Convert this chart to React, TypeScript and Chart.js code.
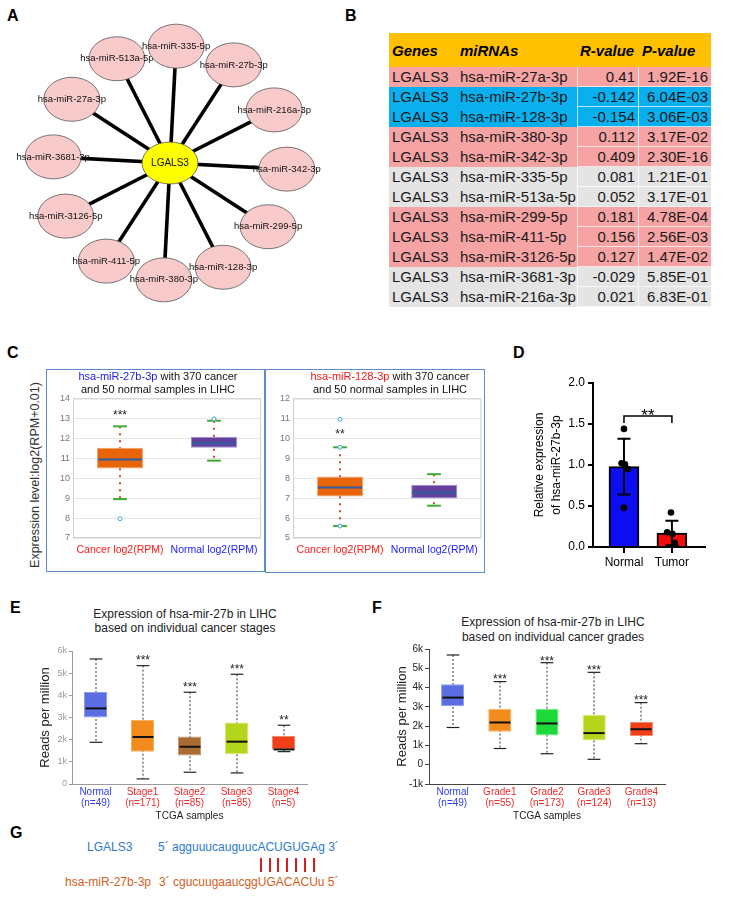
import React, { useEffect, useRef } from 'react';
import { Chart, registerables } from 'chart.js';

Chart.register(...registerables);

const FONT = "'Liberation Sans', Arial, Helvetica, sans-serif";
Chart.defaults.font.family = FONT;

// ---------------- Panel A : network ----------------
const hubGene = 'LGALS3';
const networkMirnas = [
  'hsa-miR-342-3p', 'hsa-miR-299-5p', 'hsa-miR-128-3p', 'hsa-miR-380-3p',
  'hsa-miR-411-5p', 'hsa-miR-3126-5p', 'hsa-miR-3681-3p', 'hsa-miR-27a-3p',
  'hsa-miR-513a-5p', 'hsa-miR-335-5p', 'hsa-miR-27b-3p', 'hsa-miR-216a-3p',
];

// ---------------- Panel B : correlation table ----------------
const tableHeaders = ['Genes', 'miRNAs', 'R-value', 'P-value'];
const tableGenes = ['LGALS3', 'LGALS3', 'LGALS3', 'LGALS3', 'LGALS3', 'LGALS3', 'LGALS3', 'LGALS3', 'LGALS3', 'LGALS3', 'LGALS3', 'LGALS3'];
const tableMirnas = [
  'hsa-miR-27a-3p', 'hsa-miR-27b-3p', 'hsa-miR-128-3p', 'hsa-miR-380-3p', 'hsa-miR-342-3p', 'hsa-miR-335-5p',
  'hsa-miR-513a-5p', 'hsa-miR-299-5p', 'hsa-miR-411-5p', 'hsa-miR-3126-5p', 'hsa-miR-3681-3p', 'hsa-miR-216a-3p',
];
const tableR = ['0.41', '-0.142', '-0.154', '0.112', '0.409', '0.081', '0.052', '0.181', '0.156', '0.127', '-0.029', '0.021'];
const tableP = ['1.92E-16', '6.04E-03', '3.06E-03', '3.17E-02', '2.30E-16', '1.21E-01', '3.17E-01', '4.78E-04', '2.56E-03', '1.47E-02', '5.85E-01', '6.83E-01'];

// ---------------- Panel C : ENCORI box plots ----------------
const cCategories = ['Cancer log2(RPM)', 'Normal log2(RPM)'];
const c27bQ1 = [10.48, 11.52];
const c27bQ3 = [11.52, 12.08];
const c27bMed = [10.93, 11.75];
const c27bLo = [8.95, 10.88];
const c27bHi = [12.6, 12.88];
const c27bOut = [[7.97], [12.97]];
const c27bStars = ['***', ''];

const c128Q1 = [7.08, 6.98];
const c128Q3 = [8.08, 7.67];
const c128Med = [7.53, 7.27];
const c128Lo = [5.6, 6.62];
const c128Hi = [9.55, 8.2];
const c128Out = [[10.95, 9.55, 5.6], []];
const c128Stars = ['**', ''];

// ---------------- Panel D : qPCR bar chart ----------------
const dGroups = ['Normal', 'Tumor'];
const dMeans = [0.98, 0.17];
const dSD = [0.34, 0.15];
const dNormalPoints = [1.44, 1.02, 1.01, 0.95, 0.48];
const dNormalJitter = [0, -0.05, 0.02, 0.08, 0];
const dTumorPoints = [0.42, 0.18, 0.16, 0.05, 0.02];
const dTumorJitter = [-0.02, -0.1, 0.01, 0.06, 0.06];
const dSignificance = '**';

// ---------------- Panel E : stages ----------------
const eCategories = [['Normal', '(n=49)'], ['Stage1', '(n=171)'], ['Stage2', '(n=85)'], ['Stage3', '(n=85)'], ['Stage4', '(n=5)']];
const eQ1 = [3000, 1460, 1290, 1340, 1560];
const eQ3 = [4150, 2890, 2140, 2770, 2180];
const eMed = [3410, 2120, 1680, 1910, 1560];
const eLo = [1880, 230, 530, 500, 1460];
const eHi = [5640, 5340, 4140, 4950, 2650];
const eStars = ['', '***', '***', '***', '**'];

// ---------------- Panel F : grades ----------------
const fCategories = [['Normal', '(n=49)'], ['Grade1', '(n=55)'], ['Grade2', '(n=173)'], ['Grade3', '(n=124)'], ['Grade4', '(n=13)']];
const fQ1 = [3030, 1710, 1520, 1260, 1470];
const fQ3 = [4170, 2900, 2900, 2590, 2210];
const fMed = [3480, 2190, 2140, 1640, 1840];
const fLo = [1930, 840, 570, 280, 1090];
const fHi = [5690, 4310, 5290, 4790, 3220];
const fStars = ['', '***', '***', '***', '***'];

// ---------------- Panel G : binding site ----------------
const gTargetName = 'LGALS3';
const gTargetPrefix = '5\u00b4 agguuucauguuc';
const gTargetSeed = 'ACUGUGA';
const gTargetSuffix = 'g 3\u00b4';
const gMirName = 'hsa-miR-27b-3p';
const gMirPrefix = '3\u00b4 cgucuugaaucgg';
const gMirSeed = 'UGACACU';
const gMirSuffix = 'u 5\u00b4';

// =====================================================

const networkPlugin = {
  id: 'network',
  afterDatasetsDraw(chart: any) {
    const ctx = chart.ctx as CanvasRenderingContext2D;
    const hub = chart.getDatasetMeta(0).data[0];
    const nodes = chart.getDatasetMeta(1).data;
    ctx.save();
    ctx.strokeStyle = '#000';
    ctx.lineWidth = 3.6;
    nodes.forEach((n: any) => {
      ctx.beginPath();
      ctx.moveTo(hub.x, hub.y);
      ctx.lineTo(n.x, n.y);
      ctx.stroke();
    });
    nodes.forEach((n: any, i: number) => {
      ctx.beginPath();
      ctx.ellipse(n.x, n.y, 28, 22, 0, 0, Math.PI * 2);
      ctx.fillStyle = '#F9CACA';
      ctx.fill();
      ctx.lineWidth = 0.8;
      ctx.strokeStyle = '#555';
      ctx.stroke();
      ctx.fillStyle = '#111';
      ctx.font = `9.5px ${FONT}`;
      ctx.textAlign = 'center';
      ctx.textBaseline = 'middle';
      ctx.fillText(networkMirnas[i], n.x, n.y);
    });
    ctx.beginPath();
    ctx.ellipse(hub.x, hub.y, 28, 21, 0, 0, Math.PI * 2);
    ctx.fillStyle = '#FFFF00';
    ctx.fill();
    ctx.lineWidth = 0.8;
    ctx.strokeStyle = '#555';
    ctx.stroke();
    ctx.fillStyle = '#111';
    ctx.font = `10px ${FONT}`;
    ctx.textAlign = 'center';
    ctx.textBaseline = 'middle';
    ctx.fillText(hubGene, hub.x, hub.y);
    ctx.restore();
  },
};

function makeNetwork(canvas: HTMLCanvasElement) {
  const ring = networkMirnas.map((_, i) => {
    const a = ((3 + 30 * i) * Math.PI) / 180;
    return { x: Math.cos(a), y: -Math.sin(a) };
  });
  return new Chart(canvas, {
    type: 'scatter',
    data: {
      datasets: [
        { data: [{ x: 0, y: 0 }], pointRadius: 0 },
        { data: ring, pointRadius: 0 },
      ],
    },
    options: {
      animation: false,
      responsive: false,
      layout: { padding: 0 },
      plugins: { legend: { display: false }, tooltip: { enabled: false } },
      scales: {
        x: { display: false, min: -170 / 117, max: 170 / 117 },
        y: { display: false, min: -147 / 117, max: 153 / 117 },
      },
    },
    plugins: [networkPlugin],
  } as any);
}

type BoxStyle = {
  whiskerColor: string;
  whiskerDash: number[];
  whiskerWidth: number;
  capColor: string;
  capFrac: number;
  capWidth: number;
  medianColor: string;
  medianWidth: number;
  outlierColor: string;
  starSize: number;
  starGap: number;
  frame?: string;
};

function boxPlugin(s: { lo: number[]; hi: number[]; med: number[]; out?: number[][]; stars: string[] }, st: BoxStyle) {
  return {
    id: 'boxWhiskers',
    beforeDatasetsDraw(chart: any) {
      const ctx = chart.ctx as CanvasRenderingContext2D;
      const y = chart.scales.y;
      const meta = chart.getDatasetMeta(0);
      ctx.save();
      ctx.strokeStyle = st.whiskerColor;
      ctx.lineWidth = st.whiskerWidth;
      ctx.setLineDash(st.whiskerDash);
      meta.data.forEach((el: any, i: number) => {
        const x = Math.round(el.x);
        ctx.beginPath();
        ctx.moveTo(x, y.getPixelForValue(s.hi[i]));
        ctx.lineTo(x, y.getPixelForValue(s.lo[i]));
        ctx.stroke();
      });
      ctx.restore();
    },
    afterDatasetsDraw(chart: any) {
      const ctx = chart.ctx as CanvasRenderingContext2D;
      const y = chart.scales.y;
      const meta = chart.getDatasetMeta(0);
      ctx.save();
      meta.data.forEach((el: any, i: number) => {
        const x = Math.round(el.x);
        const half = el.width / 2;
        const ym = y.getPixelForValue(s.med[i]);
        ctx.strokeStyle = st.medianColor;
        ctx.lineWidth = st.medianWidth;
        ctx.beginPath();
        ctx.moveTo(x - half + 1, ym);
        ctx.lineTo(x + half - 1, ym);
        ctx.stroke();
        const cw = (el.width * st.capFrac) / 2;
        ctx.strokeStyle = st.capColor;
        ctx.lineWidth = st.capWidth;
        [s.hi[i], s.lo[i]].forEach((v) => {
          const yy = y.getPixelForValue(v);
          ctx.beginPath();
          ctx.moveTo(x - cw, yy);
          ctx.lineTo(x + cw, yy);
          ctx.stroke();
        });
        (s.out?.[i] || []).forEach((v) => {
          ctx.beginPath();
          ctx.arc(x, y.getPixelForValue(v), 2, 0, Math.PI * 2);
          ctx.fillStyle = '#fff';
          ctx.fill();
          ctx.strokeStyle = st.outlierColor;
          ctx.lineWidth = 1;
          ctx.stroke();
        });
        if (s.stars[i]) {
          ctx.fillStyle = '#222';
          ctx.font = `${st.starSize}px ${FONT}`;
          ctx.textAlign = 'center';
          ctx.textBaseline = 'alphabetic';
          ctx.fillText(s.stars[i], x, y.getPixelForValue(s.hi[i]) - st.starGap + 0.57 * st.starSize);
        }
      });
      if (st.frame) {
        const a = chart.chartArea;
        ctx.strokeStyle = st.frame;
        ctx.lineWidth = 1;
        ctx.strokeRect(a.left + 0.5, a.top + 0.5, a.right - a.left - 1, a.bottom - a.top - 1);
      }
      ctx.restore();
    },
  };
}

function makeBoxChart(
  canvas: HTMLCanvasElement,
  p: {
    labels: any[]; q1: number[]; q3: number[]; med: number[]; lo: number[]; hi: number[]; out?: number[][]; stars: string[];
    fill: string[]; border: string[]; xScale: any; yScale: any; padding: any; style: BoxStyle;
  },
) {
  return new Chart(canvas, {
    type: 'bar',
    data: {
      labels: p.labels,
      datasets: [
        {
          data: p.q1.map((v, i) => [v, p.q3[i]]),
          backgroundColor: p.fill,
          borderColor: p.border,
          borderWidth: 1,
          borderSkipped: false,
          barPercentage: 1,
          categoryPercentage: 0.49,
        },
      ],
    },
    options: {
      animation: false,
      responsive: false,
      layout: { padding: p.padding },
      plugins: { legend: { display: false }, tooltip: { enabled: false } },
      scales: { x: p.xScale, y: p.yScale },
    },
    plugins: [boxPlugin(p, p.style)],
  } as any);
}

const cStyle: BoxStyle = {
  whiskerColor: '#D5462A', whiskerDash: [2, 5], whiskerWidth: 2,
  capColor: '#3FAA35', capFrac: 0.3, capWidth: 2,
  medianColor: '#2F5FA0', medianWidth: 2,
  outlierColor: '#49A6D8', starSize: 12, starGap: 14, frame: '#CFCFCF',
};

function cScales(min: number, max: number, yWidth: number) {
  return {
    x: {
      grid: { display: false, drawTicks: false },
      border: { display: false },
      ticks: { color: (c: any) => (c.index === 0 ? '#FF1A1A' : '#1A1AFF'), font: { size: 10.5 }, padding: 6 },
      afterFit: (s: any) => { s.height = 24; },
    },
    y: {
      min, max,
      ticks: { stepSize: 1, color: '#777', font: { size: 9 }, padding: 3 },
      grid: { color: '#E6E6E6', drawTicks: false },
      border: { display: false },
      afterFit: (s: any) => { s.width = yWidth; },
    },
  };
}

function makeC27b(canvas: HTMLCanvasElement) {
  const sc = cScales(7, 14, 25);
  return makeBoxChart(canvas, {
    labels: cCategories, q1: c27bQ1, q3: c27bQ3, med: c27bMed, lo: c27bLo, hi: c27bHi, out: c27bOut, stars: c27bStars,
    fill: ['#E8650A', '#62409C'], border: ['#F5A36C', '#A08ACF'],
    xScale: sc.x, yScale: sc.y, padding: { top: 6, right: 2, left: 0, bottom: 0 }, style: cStyle,
  });
}

function makeC128(canvas: HTMLCanvasElement) {
  const sc = cScales(5, 12, 26);
  return makeBoxChart(canvas, {
    labels: cCategories, q1: c128Q1, q3: c128Q3, med: c128Med, lo: c128Lo, hi: c128Hi, out: c128Out, stars: c128Stars,
    fill: ['#E8650A', '#62409C'], border: ['#F5A36C', '#A08ACF'],
    xScale: sc.x, yScale: sc.y, padding: { top: 6, right: 1, left: 0, bottom: 0 }, style: { ...cStyle, starGap: 16 },
  });
}

const kFormat = (v: any) => (Number(v) === 0 ? '0' : `${Number(v) / 1000}k`);

function makeE(canvas: HTMLCanvasElement) {
  return makeBoxChart(canvas, {
    labels: eCategories, q1: eQ1, q3: eQ3, med: eMed, lo: eLo, hi: eHi, stars: eStars,
    fill: ['#5B6EE1', '#F28C1C', '#A86C33', '#B4D51C', '#F03E17'],
    border: ['#8E9CF2', '#F7B066', '#C99B72', '#D3EA72', '#F7886A'],
    padding: { top: 11, right: 5, left: 0, bottom: 0 },
    style: {
      whiskerColor: '#333', whiskerDash: [2, 2], whiskerWidth: 1,
      capColor: '#222', capFrac: 0.55, capWidth: 1.2,
      medianColor: '#111', medianWidth: 2,
      outlierColor: '#333', starSize: 12, starGap: 8,
    },
    xScale: {
      grid: { display: false, drawTicks: false },
      border: { color: '#9A9A9A' },
      ticks: { color: (c: any) => (c.index === 0 ? '#2F3BF0' : '#F02A2A'), font: { size: 10, lineHeight: 1.1 }, padding: 3 },
      title: { display: true, text: 'TCGA samples', color: '#222', font: { size: 10 }, padding: { top: 0, bottom: 3 } },
      afterFit: (s: any) => { s.height = 41; },
    },
    yScale: {
      min: 0, max: 6000,
      ticks: { stepSize: 1000, callback: kFormat, color: '#9A9A9A', font: { size: 9 }, padding: 2 },
      grid: { drawOnChartArea: false, color: '#9A9A9A', tickLength: 3 },
      border: { color: '#9A9A9A' },
      title: { display: true, text: 'Reads per million', color: '#222', font: { size: 13 }, padding: { top: 8, bottom: 0 } },
      afterFit: (s: any) => { s.width = 42; },
    },
  });
}

function makeF(canvas: HTMLCanvasElement) {
  return makeBoxChart(canvas, {
    labels: fCategories, q1: fQ1, q3: fQ3, med: fMed, lo: fLo, hi: fHi, stars: fStars,
    fill: ['#5B6EE1', '#F28C1C', '#1FD93A', '#B4D51C', '#F03E17'],
    border: ['#8E9CF2', '#F7B066', '#7AEA88', '#D3EA72', '#F7886A'],
    padding: { top: 9, right: 10, left: 0, bottom: 0 },
    style: {
      whiskerColor: '#333', whiskerDash: [2, 2], whiskerWidth: 1,
      capColor: '#222', capFrac: 0.55, capWidth: 1.2,
      medianColor: '#111', medianWidth: 2,
      outlierColor: '#333', starSize: 12, starGap: 5,
    },
    xScale: {
      grid: { display: false, drawTicks: false },
      border: { color: '#444' },
      ticks: { color: (c: any) => (c.index === 0 ? '#2F3BF0' : '#F02A2A'), font: { size: 10, lineHeight: 1.1 }, padding: 3 },
      title: { display: true, text: 'TCGA samples', color: '#222', font: { size: 10 }, padding: { top: 0, bottom: 3 } },
      afterFit: (s: any) => { s.height = 41; },
    },
    yScale: {
      min: -1000, max: 6000,
      ticks: { stepSize: 1000, callback: kFormat, color: '#222', font: { size: 10 }, padding: 2 },
      grid: { drawOnChartArea: false, color: '#444', tickLength: 4 },
      border: { color: '#444' },
      title: { display: true, text: 'Reads per million', color: '#222', font: { size: 13 }, padding: { top: 5, bottom: 0 } },
      afterFit: (s: any) => { s.width = 39; },
    },
  });
}

const qpcrPlugin = {
  id: 'qpcr',
  afterDatasetsDraw(chart: any) {
    const ctx = chart.ctx as CanvasRenderingContext2D;
    const y = chart.scales.y;
    const bars = chart.getDatasetMeta(0).data;
    ctx.save();
    ctx.strokeStyle = '#000';
    ctx.lineWidth = 2;
    bars.forEach((b: any, i: number) => {
      const top = y.getPixelForValue(dMeans[i] + dSD[i]);
      const bot = y.getPixelForValue(dMeans[i] - dSD[i]);
      ctx.beginPath();
      ctx.moveTo(b.x, top);
      ctx.lineTo(b.x, bot);
      ctx.moveTo(b.x - 6.5, top);
      ctx.lineTo(b.x + 6.5, top);
      ctx.moveTo(b.x - 6.5, bot);
      ctx.lineTo(b.x + 6.5, bot);
      ctx.stroke();
    });
    const maxVal = Math.max(...dNormalPoints, ...dTumorPoints);
    const by = y.getPixelForValue(maxVal) - 13;
    ctx.lineWidth = 1.5;
    ctx.beginPath();
    ctx.moveTo(bars[0].x, by + 7);
    ctx.lineTo(bars[0].x, by);
    ctx.lineTo(bars[1].x, by);
    ctx.lineTo(bars[1].x, by + 7);
    ctx.stroke();
    ctx.fillStyle = '#000';
    ctx.font = `17px ${FONT}`;
    ctx.textAlign = 'center';
    ctx.textBaseline = 'alphabetic';
    ctx.fillText(dSignificance, (bars[0].x + bars[1].x) / 2, by + 5);
    ctx.restore();
  },
};

function makeD(canvas: HTMLCanvasElement) {
  const pts = [
    ...dNormalPoints.map((v, i) => ({ x: 0 + dNormalJitter[i], y: v })),
    ...dTumorPoints.map((v, i) => ({ x: 1 + dTumorJitter[i], y: v })),
  ];
  return new Chart(canvas, {
    type: 'bar',
    data: {
      datasets: [
        {
          type: 'bar',
          order: 2,
          data: dMeans.map((v, i) => ({ x: i, y: v })),
          backgroundColor: ['#0D0DF2', '#F20D0D'],
          borderColor: '#000',
          borderWidth: 2,
          barThickness: 30,
        },
        {
          type: 'scatter',
          order: 1,
          data: pts,
          pointRadius: 3.3,
          backgroundColor: '#000',
          borderWidth: 0,
        },
      ],
    },
    options: {
      animation: false,
      responsive: false,
      layout: { padding: { top: 13, right: 5, left: 0, bottom: 0 } },
      plugins: { legend: { display: false }, tooltip: { enabled: false } },
      scales: {
        x: {
          type: 'linear',
          min: -0.646,
          max: 1.69,
          offset: false,
          afterBuildTicks: (s: any) => { s.ticks = dGroups.map((_, i) => ({ value: i })); },
          ticks: { callback: (v: any) => dGroups[Number(v)], color: '#000', font: { size: 12 }, padding: 2, autoSkip: false },
          grid: { drawOnChartArea: false, offset: false, color: '#000', lineWidth: 2, tickLength: 6 },
          border: { color: '#000', width: 2 },
          afterFit: (s: any) => { s.height = 23; },
        },
        y: {
          min: 0,
          max: 2,
          ticks: { stepSize: 0.5, callback: (v: any) => Number(v).toFixed(1), color: '#000', font: { size: 12 }, padding: 3 },
          grid: { drawOnChartArea: false, color: '#000', lineWidth: 2, tickLength: 5 },
          border: { color: '#000', width: 2 },
          title: {
            display: true,
            text: ['Relative expression', 'of hsa-miR-27b-3p'],
            color: '#000',
            font: { size: 12, lineHeight: 1.4 },
            padding: { top: 3, bottom: 0 },
          },
          afterFit: (s: any) => { s.width = 65; },
        },
      },
    },
    plugins: [qpcrPlugin],
  } as any);
}

// =====================================================

function ChartCanvas(props: { left: number; top: number; width: number; height: number; make: (c: HTMLCanvasElement) => Chart }) {
  const ref = useRef<HTMLCanvasElement>(null);
  const { make } = props;
  useEffect(() => {
    if (!ref.current) return;
    const chart = make(ref.current);
    return () => chart.destroy();
  }, [make]);
  return (
    <canvas
      ref={ref}
      width={props.width}
      height={props.height}
      style={{ position: 'absolute', left: props.left, top: props.top, width: props.width, height: props.height }}
    />
  );
}

const PINK = '#F5A3A3';
const BLUE = '#0AB0EE';
const GRAY = '#E4E4E4';

function rowColor(i: number) {
  const p = Number(tableP[i]);
  const r = Number(tableR[i]);
  if (p < 0.05) return r > 0 ? PINK : BLUE;
  return GRAY;
}

function DataTable() {
  const widths = [66, 122, 62, 72];
  const sep = 'rgba(255,255,255,0.7)';
  return (
    <div style={{ position: 'absolute', left: 389, top: 33, width: 322, fontFamily: FONT, fontSize: 15, color: '#1a1a1a' }}>
      <div style={{ display: 'flex', height: 34, background: '#FFC000', alignItems: 'center', fontWeight: 'bold', fontStyle: 'italic', color: '#000' }}>
        {tableHeaders.map((h, i) => (
          <div key={h} style={{ width: widths[i], paddingLeft: i === 1 ? 5 : 3, boxSizing: 'border-box' }}>{h}</div>
        ))}
      </div>
      {tableMirnas.map((m, i) => {
        const bg = rowColor(i);
        return (
          <div key={m} style={{ display: 'flex', height: 20, lineHeight: '20px' }}>
            <div style={{ width: widths[0], background: bg, paddingLeft: 3, boxSizing: 'border-box' }}>{tableGenes[i]}</div>
            <div style={{ width: widths[1], background: bg, paddingLeft: 5, boxSizing: 'border-box', whiteSpace: 'nowrap' }}>{m}</div>
            <div style={{ width: widths[2], background: bg, textAlign: 'right', paddingRight: 3, boxSizing: 'border-box', borderLeft: `1px solid ${sep}`, borderRight: `1px solid ${sep}`, borderBottom: `1px solid ${sep}`, lineHeight: '19px' }}>{tableR[i]}</div>
            <div style={{ width: widths[3], background: bg, textAlign: 'right', paddingRight: 3, boxSizing: 'border-box', borderBottom: `1px solid ${sep}`, lineHeight: '19px' }}>{tableP[i]}</div>
          </div>
        );
      })}
    </div>
  );
}

function Letter(props: { ch: string; left: number; top: number }) {
  return (
    <div style={{ position: 'absolute', left: props.left, top: props.top, fontFamily: FONT, fontWeight: 'bold', fontSize: 16, lineHeight: '16px', color: '#000' }}>
      {props.ch}
    </div>
  );
}

// sequence line whose seed letters carry a pairing bar hanging below them
function SeedLine(props: { prefix: string; seed: string; suffix: string; left: number; top: number; color: string; pairs?: boolean }) {
  return (
    <div style={{ position: 'absolute', left: props.left, top: props.top, fontSize: 12, lineHeight: '14px', color: props.color, whiteSpace: 'pre' }}>
      {props.prefix}
      {props.seed.split('').map((ch, i) => (
        <span key={i} style={{ position: 'relative' }}>
          {ch}
          {props.pairs ? (
            <span style={{ position: 'absolute', left: '50%', top: 18, width: 2, height: 14, marginLeft: -1, background: '#D61F1F' }} />
          ) : null}
        </span>
      ))}
      {props.suffix}
    </div>
  );
}

export default function App() {
  const boxBorder = '1.5px solid #5E8CC6';
  return (
    <div style={{ position: 'absolute', left: 0, top: 0, width: 744, height: 899, background: '#fff', overflow: 'hidden', fontFamily: FONT }}>
      <Letter ch="A" left={7} top={8} />
      <Letter ch="B" left={345} top={8} />
      <Letter ch="C" left={7} top={345} />
      <Letter ch="D" left={513} top={345} />
      <Letter ch="E" left={10} top={600} />
      <Letter ch="F" left={372} top={600} />
      <Letter ch="G" left={10} top={825} />

      {/* A */}
      <ChartCanvas left={0} top={10} width={340} height={300} make={makeNetwork} />

      {/* B */}
      <DataTable />

      {/* C */}
      <div style={{ position: 'absolute', left: 35, top: 475, transform: 'translate(-50%, -50%) rotate(-90deg)', whiteSpace: 'nowrap', fontSize: 12.5, color: '#333' }}>
        Expression level:log2(RPM+0.01)
      </div>
      <ChartCanvas left={48} top={390} width={216} height={172} make={makeC27b} />
      <ChartCanvas left={267} top={390} width={217} height={172} make={makeC128} />
      <div style={{ position: 'absolute', left: 48, top: 370, width: 220, textAlign: 'center', fontSize: 11, lineHeight: '13px', color: '#111' }}>
        <span style={{ color: '#2020E8' }}>hsa-miR-27b-3p</span> with 370 cancer<br />and 50 normal samples in LIHC
      </div>
      <div style={{ position: 'absolute', left: 280, top: 370, width: 220, textAlign: 'center', fontSize: 11, lineHeight: '13px', color: '#111' }}>
        <span style={{ color: '#F01818' }}>hsa-miR-128-3p</span> with 370 cancer<br />and 50 normal samples in LIHC
      </div>
      <div style={{ position: 'absolute', left: 46, top: 369, width: 219, height: 203, border: boxBorder, boxSizing: 'border-box', pointerEvents: 'none' }} />
      <div style={{ position: 'absolute', left: 265, top: 369, width: 220, height: 204, border: boxBorder, boxSizing: 'border-box', pointerEvents: 'none' }} />

      {/* D */}
      <ChartCanvas left={528} top={370} width={182} height={200} make={makeD} />

      {/* E */}
      <div style={{ position: 'absolute', left: 85, top: 607, width: 200, textAlign: 'center', fontSize: 12, lineHeight: '14px', color: '#222' }}>
        Expression of hsa-mir-27b in LIHC<br />based on individual cancer stages
      </div>
      <ChartCanvas left={30} top={640} width={282} height={185} make={makeE} />

      {/* F */}
      <div style={{ position: 'absolute', left: 453, top: 615, width: 200, textAlign: 'center', fontSize: 12, lineHeight: '15px', color: '#222' }}>
        Expression of hsa-mir-27b in LIHC<br />based on individual cancer grades
      </div>
      <ChartCanvas left={390} top={640} width={285} height={185} make={makeF} />

      {/* G */}
      <div style={{ position: 'absolute', left: 87, top: 840, fontSize: 12, lineHeight: '14px', color: '#2B7BCB', whiteSpace: 'pre' }}>{gTargetName}</div>
      <SeedLine prefix={gTargetPrefix} seed={gTargetSeed} suffix={gTargetSuffix} left={158} top={840} color="#2B7BCB" pairs />
      <div style={{ position: 'absolute', left: 65, top: 875, fontSize: 12, lineHeight: '14px', color: '#D2601C', whiteSpace: 'pre' }}>{gMirName}</div>
      <SeedLine prefix={gMirPrefix} seed={gMirSeed} suffix={gMirSuffix} left={159} top={875} color="#D2601C" />
    </div>
  );
}
